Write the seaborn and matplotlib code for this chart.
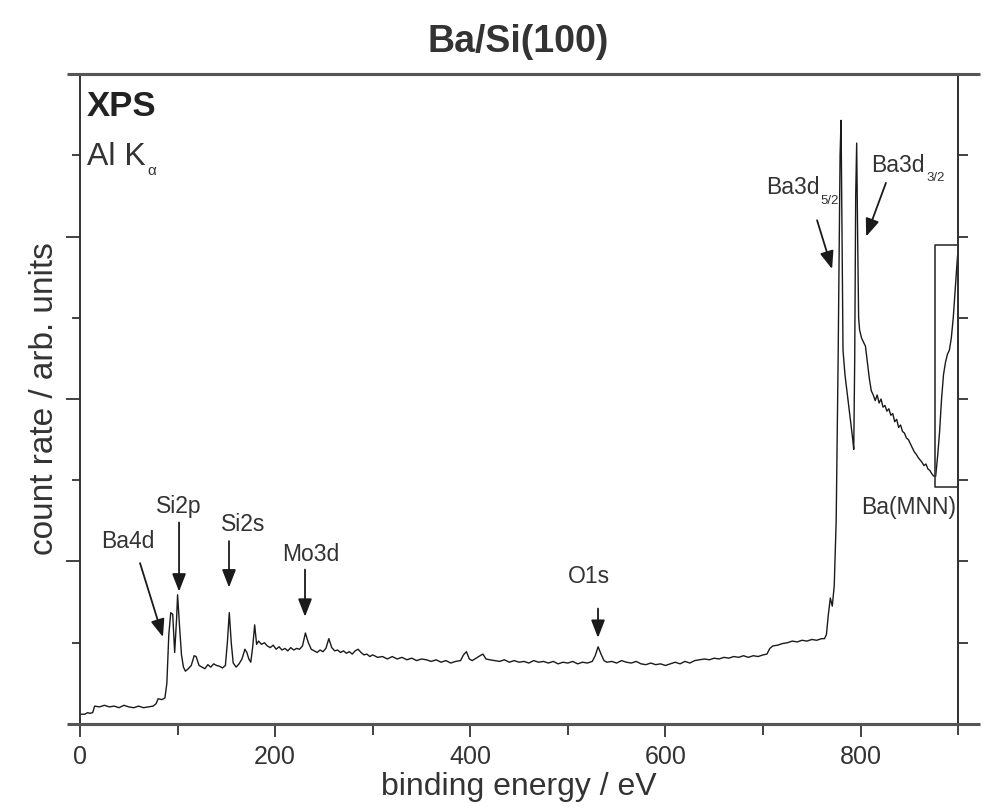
import numpy as np
import pandas as pd
import matplotlib
matplotlib.use("Agg")
import matplotlib.pyplot as plt
import seaborn as sns

# ---------------- data ----------------
energy = [0, 5, 8, 10, 13, 15, 20, 25, 30, 35, 40, 45, 50, 55, 60, 65, 70, 75, 78, 80,
          84, 87, 89, 91, 93, 95, 97, 99, 100, 102, 104, 106, 108, 111, 114, 117, 119, 122, 125, 128,
          131, 134, 137, 140, 143, 146, 149, 151, 153, 155, 157, 160, 163, 166, 169, 171, 173, 175, 177, 179,
          181, 183, 186, 189, 192, 195, 198, 201, 204, 207, 210, 213, 216, 219, 222, 225, 228, 231, 234, 237,
          240, 243, 246, 249, 252, 255, 258, 261, 264, 267, 270, 273, 276, 279, 282, 285, 288, 291, 294, 297,
          300, 305, 310, 315, 320, 325, 330, 335, 340, 345, 350, 355, 360, 365, 370, 375, 380, 385, 390, 393,
          396, 399, 402, 406, 410, 413, 416, 420, 425, 430, 435, 440, 445, 450, 455, 460, 465, 470, 475, 480,
          485, 490, 495, 500, 505, 510, 515, 520, 525, 528, 531, 534, 537, 540, 545, 550, 555, 560, 565, 570,
          575, 580, 585, 590, 595, 600, 605, 610, 615, 620, 625, 630, 635, 640, 645, 650, 655, 660, 665, 670,
          675, 680, 685, 690, 695, 700, 704, 707, 710, 715, 720, 725, 730, 735, 740, 745, 750, 755, 760, 763,
          765, 767, 769, 771, 773, 775, 777, 779, 780, 781, 782, 784, 786, 788, 790, 792, 793, 794, 795, 796,
          797, 798, 799, 801, 803, 805, 807, 809, 811, 813, 815, 817, 819, 821, 823, 825, 827, 829, 831, 833,
          835, 837, 839, 841, 843, 845, 847, 849, 851, 853, 855, 857, 859, 861, 863, 865, 867, 869, 871, 873,
          875, 877, 879, 881, 883, 885, 887, 889, 891, 893, 895, 897, 899, 900]
counts = [0.12, 0.12, 0.14, 0.13, 0.14, 0.22, 0.21, 0.23, 0.21, 0.22, 0.20, 0.23, 0.21, 0.20, 0.22, 0.20, 0.21, 0.22, 0.25, 0.31,
          0.30, 0.32, 0.50, 1.10, 1.37, 1.35, 0.88, 1.30, 1.59, 1.20, 0.85, 0.70, 0.65, 0.68, 0.72, 0.84, 0.83, 0.72, 0.70, 0.68,
          0.73, 0.70, 0.74, 0.72, 0.71, 0.69, 0.72, 1.00, 1.37, 1.00, 0.75, 0.70, 0.74, 0.80, 0.92, 0.88, 0.80, 0.76, 0.95, 1.22,
          0.98, 1.02, 0.98, 1.00, 0.96, 0.94, 0.97, 0.92, 0.95, 0.91, 0.93, 0.90, 0.94, 0.91, 0.93, 0.92, 0.96, 1.12, 1.00, 0.92,
          0.90, 0.88, 0.91, 0.89, 0.93, 1.05, 0.94, 0.90, 0.91, 0.88, 0.90, 0.87, 0.89, 0.86, 0.90, 0.92, 0.88, 0.85, 0.86, 0.83,
          0.85, 0.82, 0.83, 0.80, 0.83, 0.80, 0.82, 0.79, 0.81, 0.78, 0.80, 0.79, 0.77, 0.79, 0.76, 0.78, 0.75, 0.77, 0.78, 0.85,
          0.89, 0.80, 0.78, 0.81, 0.84, 0.86, 0.80, 0.79, 0.78, 0.77, 0.79, 0.76, 0.78, 0.76, 0.77, 0.75, 0.78, 0.76, 0.77, 0.75,
          0.77, 0.74, 0.76, 0.75, 0.77, 0.74, 0.76, 0.75, 0.77, 0.84, 0.95, 0.86, 0.78, 0.76, 0.77, 0.75, 0.78, 0.76, 0.75, 0.77,
          0.74, 0.73, 0.75, 0.73, 0.74, 0.72, 0.74, 0.76, 0.74, 0.77, 0.75, 0.78, 0.79, 0.80, 0.79, 0.81, 0.80, 0.82, 0.81, 0.83,
          0.82, 0.84, 0.82, 0.84, 0.83, 0.85, 0.86, 0.93, 0.96, 0.97, 0.99, 1.00, 1.02, 1.01, 1.03, 1.02, 1.04, 1.03, 1.05, 1.05,
          1.10, 1.35, 1.55, 1.45, 1.70, 2.50, 4.50, 7.00, 7.43, 6.00, 4.60, 4.30, 4.10, 3.90, 3.70, 3.50, 3.38, 4.50, 6.50, 7.15,
          6.00, 5.00, 4.85, 4.75, 4.70, 4.65, 4.45, 4.25, 4.10, 4.05, 3.98, 4.05, 3.95, 4.00, 3.90, 3.92, 3.85, 3.88, 3.80, 3.82,
          3.72, 3.75, 3.65, 3.68, 3.60, 3.58, 3.52, 3.50, 3.45, 3.40, 3.35, 3.32, 3.28, 3.25, 3.22, 3.18, 3.20, 3.14, 3.12, 3.08,
          3.05, 3.05, 3.30, 3.60, 4.00, 4.30, 4.45, 4.55, 4.60, 4.75, 5.00, 5.35, 5.70, 5.85]

x_major_ticks = [0, 200, 400, 600, 800]
x_minor_ticks = [100, 300, 500, 700, 900]

peak_labels = ["Ba4d", "Si2p", "Si2s", "Mo3d", "O1s"]
peak_text_xy = [(49, 2.25), (101.5, 2.68), (167, 2.45), (236, 2.08), (522, 1.81)]
peak_arrow_tail = [(61.5, 1.98), (101.5, 2.48), (152.7, 2.25), (230.6, 1.90), (530.9, 1.42)]
peak_arrow_head = [(85.0, 1.07), (101.5, 1.63), (152.7, 1.68), (230.6, 1.32), (530.9, 1.06)]

# ---------------- style ----------------
sns.set_theme(style="ticks")
plt.rcParams["font.family"] = ["Liberation Sans", "DejaVu Sans"]

fig = plt.figure(figsize=(9.99, 8.08), dpi=100)
ax = fig.add_axes([0.0801, 0.104, 0.879, 0.8044])

df = pd.DataFrame({"energy": energy, "counts": counts})
sns.lineplot(data=df, x="energy", y="counts", ax=ax, color="#1a1a1a",
             linewidth=1.0, estimator=None, sort=False)

ax.set_xlim(0, 900)
ax.set_ylim(0, 8)

ax.set_xticks(x_major_ticks)
ax.set_xticks(x_minor_ticks, minor=True)
ax.set_yticks([2, 4, 6])
ax.set_yticks([1, 3, 5, 7], minor=True)
ax.set_yticklabels([])
ax.tick_params(axis="x", which="major", length=9, width=1.3, direction="out",
               labelsize=18, labelcolor="#333333", color="#333333", pad=6)
ax.tick_params(axis="x", which="minor", length=8, width=1.3, direction="out", color="#333333")
ax.tick_params(axis="y", which="major", length=10, width=1.3, direction="out", color="#333333")
ax.tick_params(axis="y", which="minor", length=6, width=1.3, direction="out", color="#333333")

sec = ax.secondary_yaxis("right")
sec.set_yticks([1, 2, 3, 4, 5, 6, 7])
sec.set_yticklabels([])
sec.tick_params(axis="y", length=7, width=1.3, direction="out", color="#333333")
sec.spines["right"].set_linewidth(1.4)
sec.spines["right"].set_color("#333333")

for side in ["left", "right"]:
    ax.spines[side].set_linewidth(1.4)
    ax.spines[side].set_color("#333333")
for side in ["top", "bottom"]:
    ax.spines[side].set_linewidth(2.2)
    ax.spines[side].set_color("#555555")
    ax.spines[side].set_visible(True)

# overhang of the top and bottom frame lines (Origin style)
for yy in (0, 1):
    ax.plot([-0.015, 1.025], [yy, yy], transform=ax.transAxes, color="#555555",
            linewidth=2.2, clip_on=False, solid_capstyle="butt")

ax.set_xlabel("binding energy / eV", fontsize=23, color="#333333", labelpad=2)
ax.set_ylabel("count rate / arb. units", fontsize=24, color="#333333", labelpad=1)
fig.text(0.519, 0.948, "Ba/Si(100)", fontsize=27, fontweight="bold", color="#333333",
         ha="center", va="center")

ax.text(0.008, 0.975, "XPS", transform=ax.transAxes, fontsize=25, fontweight="bold",
        color="#222222", ha="left", va="top")
t_al = ax.text(0.008, 0.895, "Al K", transform=ax.transAxes, fontsize=23,
               color="#333333", ha="left", va="top")
ax.annotate("α", xy=(1.0, 0.0), xycoords=t_al, xytext=(1, 6), textcoords="offset points",
            fontsize=11, color="#333333", ha="left", va="top")

arrow_style = dict(arrowstyle="-|>,head_length=0.9,head_width=0.35", color="#1a1a1a",
                   linewidth=1.3, shrinkA=0, shrinkB=0)
for lab, txy, tail, head in zip(peak_labels, peak_text_xy, peak_arrow_tail, peak_arrow_head):
    ax.text(txy[0], txy[1], lab, fontsize=16.5, color="#333333", ha="center", va="center")
    ax.annotate("", xy=head, xytext=tail, arrowprops=arrow_style)

t1 = ax.text(703, 6.6, "Ba3d", fontsize=16.5, color="#333333", ha="left", va="center")
ax.annotate("5/2", xy=(1.0, 0.0), xycoords=t1, xytext=(1, 3), textcoords="offset points",
            fontsize=9.5, color="#333333", ha="left", va="top")
ax.annotate("", xy=(770.8, 5.6), xytext=(755.4, 6.2), arrowprops=arrow_style)
t2 = ax.text(811, 6.88, "Ba3d", fontsize=16.5, color="#333333", ha="left", va="center")
ax.annotate("3/2", xy=(1.0, 0.0), xycoords=t2, xytext=(1, 3), textcoords="offset points",
            fontsize=9.5, color="#333333", ha="left", va="top")
ax.annotate("", xy=(805.7, 6.0), xytext=(826, 6.66), arrowprops=arrow_style)
ax.text(898, 2.66, "Ba(MNN)", fontsize=16.5, color="#333333", ha="right", va="center")

# box marking the Ba(MNN) region
ax.plot([900, 876, 876, 900], [5.9, 5.9, 2.92, 2.92], color="#333333", linewidth=1.2)

fig.savefig("out.png", dpi=100, facecolor="white")
